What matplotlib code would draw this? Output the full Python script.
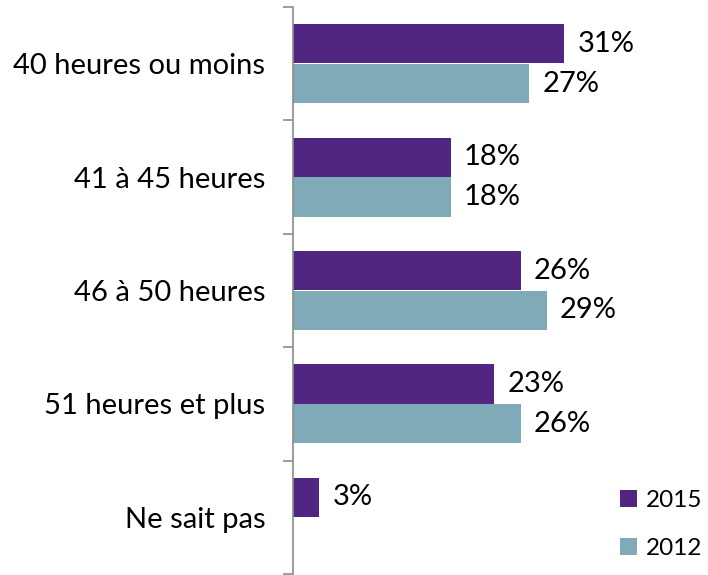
import matplotlib
matplotlib.use("Agg")
import matplotlib.pyplot as plt
import numpy as np

categories = ["40 heures ou moins", "41 à 45 heures", "46 à 50 heures", "51 heures et plus", "Ne sait pas"]
values_2015 = [31, 18, 26, 23, 3]
values_2012 = [27, 18, 29, 26, None]
series_names = ["2015", "2012"]
colors = ["#512683", "#80AAB8"]

plt.rcParams['font.family'] = ['Lato', 'DejaVu Sans']
FS = 21
LFS = 17.5

fig = plt.figure(figsize=(7.08, 5.75), dpi=100)
ax = fig.add_axes([293/708, 1/575, 1 - 293/708 - 0.005, 567/575])

y = np.arange(len(categories))
h = 0.345
off = 0.175
px_per_unit = 8.75
xmax = (ax.get_position().width * 708) / px_per_unit

v15 = np.array(values_2015, dtype=float)
v12 = np.array([np.nan if v is None else v for v in values_2012], dtype=float)

ax.barh(y - off, v15, height=h, color=colors[0], label=series_names[0])
ax.barh(y + off, np.nan_to_num(v12), height=h, color=colors[1], label=series_names[1])

for yi, v in list(zip(y - off, v15)) + list(zip(y + off, v12)):
    if not np.isnan(v):
        ax.annotate(f"{v:.0f}%", xy=(v, yi), xytext=(9.5, 0), textcoords="offset points",
                    va="center", ha="left", fontsize=FS)

ax.set_xlim(0, xmax)
ax.set_ylim(len(categories) - 0.5, -0.5)
ax.set_yticks(y)
ax.set_yticklabels(categories, fontsize=FS)
ax.set_yticks(np.arange(len(categories) + 1) - 0.5, minor=True)
ax.tick_params(axis='y', which='major', length=0, pad=20)
ax.tick_params(axis='y', which='minor', length=7, width=1.2, color="#8c8c8c")
ax.set_xticks([])
for s in ["top", "right", "bottom"]:
    ax.spines[s].set_visible(False)
ax.spines["left"].set_color("#8c8c8c")
ax.spines["left"].set_linewidth(1.2)

leg = fig.legend(*ax.get_legend_handles_labels(), loc="center left",
                 bbox_to_anchor=(620/708, 1 - 524.5/575), bbox_transform=fig.transFigure,
                 frameon=False, fontsize=LFS, borderpad=0, borderaxespad=0,
                 handlelength=0.7, handleheight=0.7, handletextpad=0.35, labelspacing=1.13)

fig.savefig("out.png", dpi=100)
